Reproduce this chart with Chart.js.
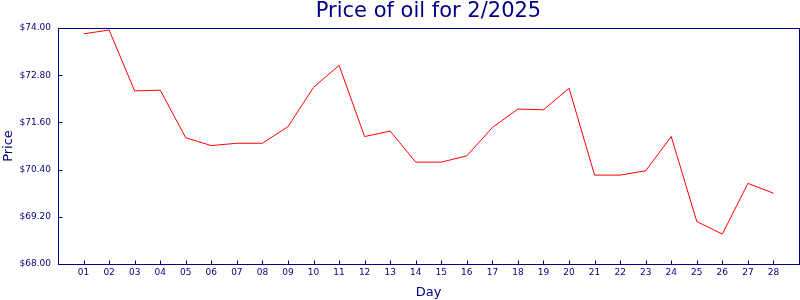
<!DOCTYPE html>
<html lang="en">
<head>
  <meta charset="UTF-8">
  <title>Price of oil for 2/2025</title>
  <style>
    body { margin: 0; background: #fff; }
    #wrap { width: 800px; height: 300px; position: relative; }
  </style>
</head>
<body>
  <div id="wrap"><canvas id="grafico"></canvas></div>
  <script src="https://cdn.jsdelivr.net/npm/chart.js"></script>
  <script>
    const dias = ['01','02','03','04','05','06','07','08','09','10','11','12','13','14',
                  '15','16','17','18','19','20','21','22','23','24','25','26','27','28'];
    const precos = [73.85, 73.95, 72.40, 72.42, 71.21, 71.01, 71.07, 71.07, 71.49, 72.49,
                    73.05, 71.24, 71.38, 70.59, 70.59, 70.75, 71.47, 71.94, 71.92, 72.47,
                    70.26, 70.26, 70.37, 71.24, 69.08, 68.76, 70.05, 69.80];
    const ticksY = [68.00, 69.20, 70.40, 71.60, 72.80, 74.00];

    const azul = '#000080';
    Chart.defaults.font.family = "'DejaVu Sans', sans-serif";
    Chart.defaults.color = azul;

    // moldura e marcas internas dos eixos
    const moldura = {
      id: 'moldura',
      afterDraw(chart) {
        const { ctx, chartArea: a, scales } = chart;
        const l = Math.floor(a.left) + 0.5, t = Math.floor(a.top) + 0.5;
        const r = Math.floor(a.right) + 0.5, b = Math.floor(a.bottom) + 0.5;
        ctx.save();
        ctx.strokeStyle = azul;
        ctx.lineWidth = 1;
        ctx.strokeRect(l, t, r - l, b - t);
        ctx.beginPath();
        scales.y.ticks.forEach(tk => {
          const y = Math.round(scales.y.getPixelForValue(tk.value)) + 0.5;
          ctx.moveTo(l, y); ctx.lineTo(l + 4, y);
        });
        scales.x.ticks.forEach(tk => {
          const x = Math.round(scales.x.getPixelForValue(tk.value)) + 0.5;
          ctx.moveTo(x, b); ctx.lineTo(x, b - 4);
        });
        ctx.stroke();
        ctx.restore();
      }
    };

    new Chart(document.getElementById('grafico'), {
      type: 'line',
      data: {
        datasets: [{
          data: precos.map((p, i) => ({ x: i + 1, y: p })),
          borderColor: '#ff0000',
          borderWidth: 1,
          pointRadius: 0,
          tension: 0,
          fill: false
        }]
      },
      options: {
        responsive: true,
        maintainAspectRatio: false,
        animation: false,
        layout: { padding: { left: 0, right: 1, top: 0, bottom: 0 } },
        plugins: {
          legend: { display: false },
          tooltip: { enabled: false },
          title: {
            display: true,
            text: 'Price of oil for 2/2025',
            fullSize: false,
            color: azul,
            font: { size: 21, weight: 'normal', lineHeight: '22px' },
            padding: { top: 1, bottom: 5 }
          }
        },
        scales: {
          x: {
            type: 'linear',
            min: 0,
            max: dias.length + 1,
            grid: { display: false, drawTicks: false },
            border: { display: false },
            afterBuildTicks: s => { s.ticks = dias.map((d, i) => ({ value: i + 1 })); },
            afterFit: s => { s.height = 36; },
            ticks: {
              autoSkip: false,
              maxRotation: 0,
              padding: 3,
              font: { size: 9 },
              callback: v => dias[v - 1]
            },
            title: { display: true, text: 'Day', font: { size: 13 }, padding: { top: 0, bottom: 0 } }
          },
          y: {
            min: 68,
            max: 74,
            grid: { display: false, drawTicks: false },
            border: { display: false },
            afterBuildTicks: s => { s.ticks = ticksY.map(v => ({ value: v })); },
            afterFit: s => { s.width = 58; },
            ticks: {
              padding: 7,
              font: { size: 9 },
              callback: v => '$' + v.toFixed(2)
            },
            title: { display: true, text: 'Price', font: { size: 13 }, padding: { top: 1, bottom: 0 } }
          }
        }
      },
      plugins: [moldura]
    });
  </script>
</body>
</html>
